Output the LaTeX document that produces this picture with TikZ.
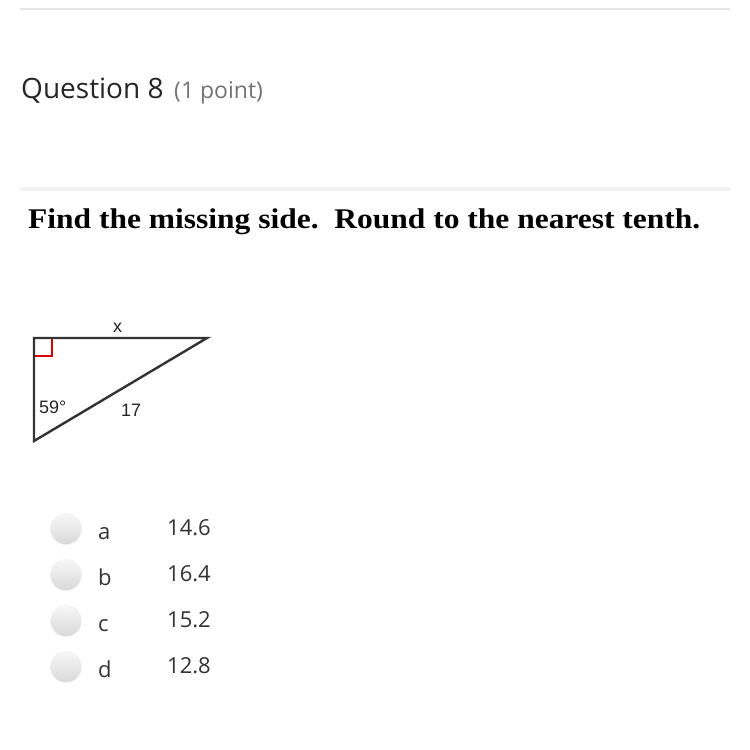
\documentclass[tikz,border=0pt]{standalone}
\usepackage{fontspec}
\setmainfont{Open Sans}
\newfontfamily\timesfont{Liberation Serif}
\newfontfamily\arialfont{Liberation Sans}

\begin{document}
\begin{tikzpicture}[x=1pt,y=-1pt]
\tikzset{texte/.style={inner sep=0pt, anchor=base west, text=black!80},
  bouton/.style={circle, minimum size=31pt, inner sep=0pt, draw=black!6, top color=black!3, bottom color=black!15},
  etiquette/.style={inner sep=0pt, anchor=base west, font=\arialfont\fontsize{18}{20}\selectfont, text=black!85}}
\useasboundingbox (0,0) rectangle (750,750);
\fill[white] (0,0) rectangle (750,750);
\draw[black!10, line width=1.5pt] (20,9) -- (730,9);
\fill[black!5] (20,187) rectangle (730,191);
\node[texte, font=\fontsize{28}{30}\selectfont, text=black!85] (Q) at (21,98) {Question 8};
\node[texte, font=\fontsize{23}{25}\selectfont, text=black!55] (P) at (174,98) {(1 point)};
\node[texte, font=\timesfont\bfseries\fontsize{28.5}{30}\selectfont, text=black] (F) at (28,228) {\scalebox{1.105}[1]{Find the missing side.\ \ Round to the nearest tenth.}};
\coordinate (A) at (34,338);
\coordinate (B) at (207,338);
\coordinate (C) at (34,441);
\draw[red!85!black, line width=1.6pt] (34,356) -- (52,356) -- (52,338);
\draw[black!80, line width=2.4pt, line join=miter] (A) -- (B) -- (C) -- cycle;
\node[etiquette] (X) at (113,332) {x};
\node[etiquette] (ANG) at (39,413) {59°};
\node[etiquette] (H) at (121,416) {17};
\node[bouton] (C1) at (66,529) {};
\node[bouton] (C2) at (66,575) {};
\node[bouton] (C3) at (66,621) {};
\node[bouton] (C4) at (66,667) {};
\node[texte, font=\fontsize{22}{24}\selectfont] (L1) at (98,539) {a};
\node[texte, font=\fontsize{22}{24}\selectfont] (L2) at (98,585) {b};
\node[texte, font=\fontsize{22}{24}\selectfont] (L3) at (98,631) {c};
\node[texte, font=\fontsize{22}{24}\selectfont] (L4) at (98,677) {d};
\node[texte, font=\fontsize{22}{24}\selectfont] (R1) at (167,535) {14.6};
\node[texte, font=\fontsize{22}{24}\selectfont] (R2) at (167,581) {16.4};
\node[texte, font=\fontsize{22}{24}\selectfont] (R3) at (167,627) {15.2};
\node[texte, font=\fontsize{22}{24}\selectfont] (R4) at (167,673) {12.8};
\end{tikzpicture}
\end{document}
